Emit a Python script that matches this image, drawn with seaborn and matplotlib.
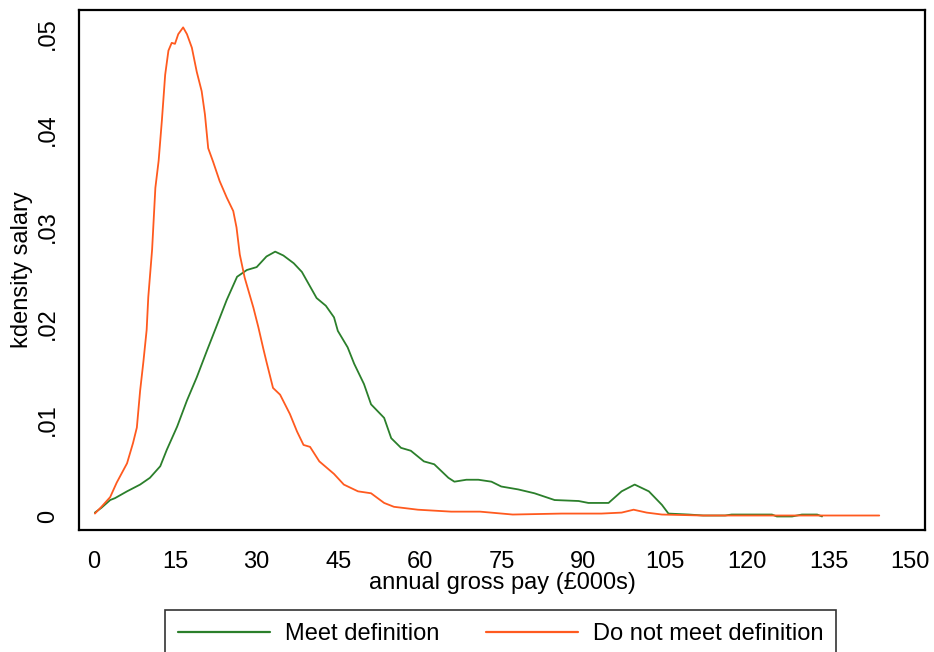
import matplotlib
matplotlib.use("Agg")
import matplotlib.pyplot as plt
import seaborn as sns
import pandas as pd

# ---- data ----
series_names = ["Meet definition", "Do not meet definition"]

x_meet = [0.3, 1.5, 3.1, 4.0, 6.2, 8.6, 10.4, 12.3, 13.5, 15.4, 17.2, 19.0, 20.9, 22.5, 24.5,
          26.4, 28.2, 30.0, 31.8, 33.4, 34.9, 36.8, 38.3, 39.9, 41.0, 42.7, 44.2, 44.9, 46.7, 47.9,
          49.7, 51.0, 53.4, 54.7, 56.5, 58.3, 60.7, 62.6, 65.2, 66.3, 68.5, 70.7, 73.1, 74.9, 78.0,
          81.0, 84.7, 89.1, 90.9, 94.6, 97.0, 99.4, 102.0, 104.4, 105.6, 109.3, 112, 116, 117.2, 124.6,
          125.5, 128.3, 130.1, 132.9, 133.8]
y_meet = [.0004, .0009, .0017, .0019, .0026, .0033, .004, .0052, .0069, .0093, .012, .0144, .0172, .0195, .0224,
          .0248, .0255, .0258, .0269, .0274, .027, .0262, .0253, .0237, .0226, .0218, .0206, .0192, .0175, .0158,
          .0137, .0116, .0102, .0081, .0071, .0068, .0057, .0054, .004, .0036, .0038, .0038, .0036, .0031, .0028,
          .0024, .0017, .0016, .0014, .0014, .0026, .0033, .0026, .0012, .0003, .0002, .0001, .0001, .0002, .0002,
          0.0, 0.0, .0002, .0002, 0.0]

x_not = [0.3, 1.5, 3.1, 4.3, 6.2, 7.3, 8.0, 8.6, 9.2, 9.8, 10.1, 10.8, 11.4, 12.0, 12.6,
         13.2, 13.8, 14.4, 15.0, 15.6, 16.5, 17.2, 18.1, 19.0, 19.9, 20.5, 21.1, 22.0, 23.2, 24.5,
         25.7, 26.3, 26.9, 27.8, 29.4, 30.3, 31.2, 31.8, 33.0, 34.3, 36.1, 37.4, 38.6, 39.8, 41.5,
         44.2, 46.0, 48.6, 51.0, 53.4, 55.2, 59.6, 65.7, 71, 77, 86, 93.3, 97, 99.2, 101.6,
         104.4, 111.7, 120, 130, 144.3]
y_not = [.0003, .001, .002, .0035, .0055, .0076, .0092, .013, .016, .0193, .0227, .0276, .034, .0368, .041,
         .0457, .0482, .049, .0489, .0499, .0506, .0499, .0485, .046, .044, .0416, .0381, .0367, .0347, .033,
         .0316, .0299, .0271, .0247, .0216, .0196, .0174, .016, .0133, .0126, .0106, .0088, .0074, .0072, .0057,
         .0044, .0033, .0026, .0024, .0014, .001, .0007, .0005, .0005, .0002, .0003, .0003, .0004, .0007, .0004,
         .0002, .0001, .0001, .0001, .0001]

x_ticks = [0, 15, 30, 45, 60, 75, 90, 105, 120, 135, 150]
y_ticks = [0, 0.01, 0.02, 0.03, 0.04, 0.05]
y_tick_labels = ["0", ".01", ".02", ".03", ".04", ".05"]

colors = {"Meet definition": "#2b7f2b", "Do not meet definition": "#ff5a1f"}

df = pd.concat([
    pd.DataFrame({"x": x_meet, "y": y_meet, "group": series_names[0]}),
    pd.DataFrame({"x": x_not, "y": y_not, "group": series_names[1]}),
], ignore_index=True)

# ---- plot ----
sns.set_style("white")
plt.rcParams["font.family"] = ["Liberation Sans", "DejaVu Sans"]
plt.rcParams["text.color"] = "black"
plt.rcParams["axes.labelcolor"] = "black"

fig = plt.figure(figsize=(9.34, 6.52), dpi=100)
ax = fig.add_axes([79 / 934, 1 - 530 / 652, (925 - 79) / 934, (530 - 10) / 652])

sns.lineplot(data=df, x="x", y="y", hue="group", palette=colors, hue_order=series_names,
             estimator=None, sort=False, linewidth=1.3, legend=False, ax=ax)

ax.set_xlim(-2.62, 152.7)
ax.set_ylim(-0.0014, 0.0524)
ax.set_xticks(x_ticks)
ax.set_xticklabels([str(v) for v in x_ticks])
ax.set_yticks(y_ticks)
ax.set_yticklabels(y_tick_labels, rotation=90, va="center")

for sp in ax.spines.values():
    sp.set_visible(True)
    sp.set_color("black")
    sp.set_linewidth(1.6)

ax.tick_params(axis="x", direction="out", length=6, width=1.5, pad=9, labelsize=17, colors="black")
ax.tick_params(axis="y", direction="out", length=6.5, width=1.5, pad=8, labelsize=17, colors="black")

ax.set_xlabel("annual gross pay (£000s)", fontsize=17, color="black")
ax.set_ylabel("kdensity salary", fontsize=17, color="black")
ax.xaxis.set_label_coords(0.5, -0.08)
ax.yaxis.set_label_coords(-0.054, 0.5)

handles = ax.get_lines()[:2]
leg = fig.legend(handles, series_names, loc="upper center", ncol=2,
                 bbox_to_anchor=(0.536, 1 - 610 / 652), bbox_transform=fig.transFigure,
                 frameon=True, fancybox=False, shadow=False, fontsize=17,
                 handlelength=3.9, handletextpad=0.65, columnspacing=1.95,
                 borderpad=0.55, borderaxespad=0, labelcolor="black")
leg.get_frame().set_edgecolor("black")
leg.get_frame().set_linewidth(1.2)
for h in leg.get_lines():
    h.set_linewidth(1.6)

fig.savefig("out.png", dpi=100, facecolor="white")
